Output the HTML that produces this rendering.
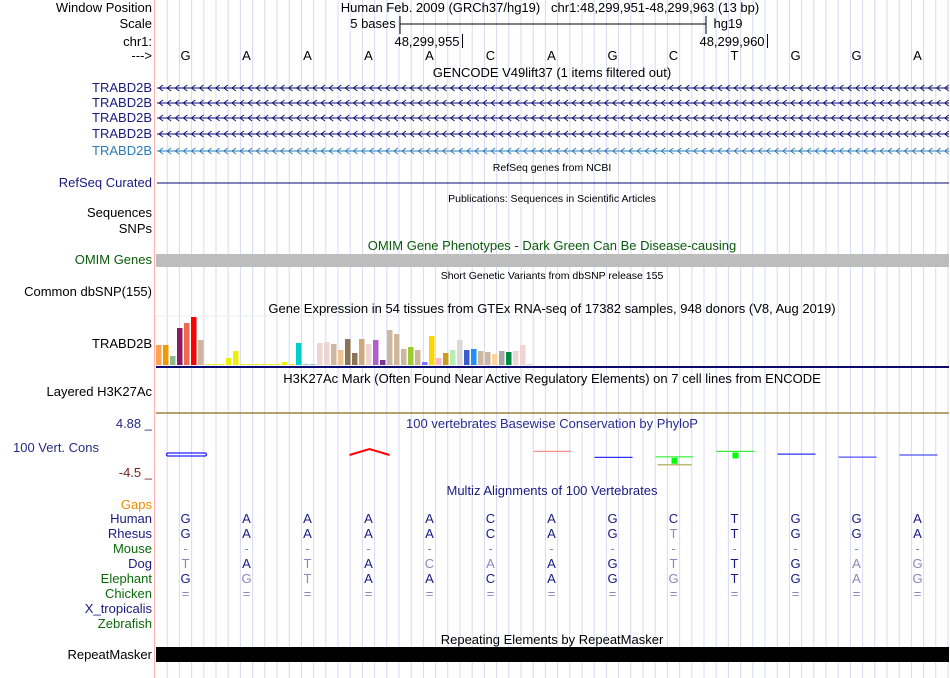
<!DOCTYPE html>
<html><head><meta charset="utf-8">
<style>
body{margin:0;width:950px;height:678px;overflow:hidden;background:#fff;font-family:"Liberation Sans",sans-serif;position:relative}
.l{position:absolute;right:798px;font-size:13px;white-space:nowrap;line-height:15px}
.t{position:absolute;font-size:13px;white-space:nowrap;line-height:15px;transform:translateX(-50%)}
.s{font-size:10.5px}
svg{position:absolute;left:0;top:0}
</style></head><body>
<svg id="g" width="950" height="678"></svg>

<div class="l" style="top:0px">Window Position</div>
<div class="l" style="top:16px">Scale</div>
<div class="l" style="top:34px">chr1:</div>
<div class="l" style="top:48px">---&gt;</div>
<div class="l" style="top:80px;color:#1a1a80">TRABD2B</div>
<div class="l" style="top:95px;color:#1a1a80">TRABD2B</div>
<div class="l" style="top:110px;color:#1a1a80">TRABD2B</div>
<div class="l" style="top:126px;color:#1a1a80">TRABD2B</div>
<div class="l" style="top:143px;color:#2a7ab8">TRABD2B</div>
<div class="l" style="top:175px;color:#1a1a80">RefSeq Curated</div>
<div class="l" style="top:205px">Sequences</div>
<div class="l" style="top:221px">SNPs</div>
<div class="l" style="top:252px;color:#0a5a0a">OMIM Genes</div>
<div class="l" style="top:284px">Common dbSNP(155)</div>
<div class="l" style="top:336px">TRABD2B</div>
<div class="l" style="top:384px">Layered H3K27Ac</div>
<div class="l" style="top:416px;color:#2a2a80">4.88 _</div>
<div class="l" style="top:440px;right:auto;left:13px;color:#2a2a80">100 Vert. Cons</div>
<div class="l" style="top:465px;color:#7a2020">-4.5 _</div>
<div class="l" style="top:497px;color:#f08c00">Gaps</div>
<div class="l" style="top:511px;color:#1a1a80">Human</div>
<div class="l" style="top:526px;color:#1a1a80">Rhesus</div>
<div class="l" style="top:541px;color:#0a6a0a">Mouse</div>
<div class="l" style="top:556px;color:#1a1a80">Dog</div>
<div class="l" style="top:571px;color:#0a6a0a">Elephant</div>
<div class="l" style="top:586px;color:#0a6a0a">Chicken</div>
<div class="l" style="top:601px;color:#1a1a80">X_tropicalis</div>
<div class="l" style="top:616px;color:#0a6a0a">Zebrafish</div>
<div class="l" style="top:647px">RepeatMasker</div>

<div class="t" style="left:550px;top:0px">Human Feb. 2009 (GRCh37/hg19)&nbsp;&nbsp; chr1:48,299,951-48,299,963 (13 bp)</div>
<div class="t" style="left:373px;top:16px">5 bases</div>
<div class="t" style="left:728px;top:16px">hg19</div>
<div class="t" style="left:427px;top:34px">48,299,955</div>
<div class="t" style="left:732px;top:34px">48,299,960</div>
<div class="t" style="left:552px;top:65px">GENCODE V49lift37 (1 items filtered out)</div>
<div class="t s" style="left:552px;top:161px">RefSeq genes from NCBI</div>
<div class="t s" style="left:552px;top:192px">Publications: Sequences in Scientific Articles</div>
<div class="t" style="left:552px;top:238px;color:#0a5a0a">OMIM Gene Phenotypes - Dark Green Can Be Disease-causing</div>
<div class="t s" style="left:552px;top:269px">Short Genetic Variants from dbSNP release 155</div>
<div class="t" style="left:552px;top:301px">Gene Expression in 54 tissues from GTEx RNA-seq of 17382 samples, 948 donors (V8, Aug 2019)</div>
<div class="t" style="left:552px;top:371px">H3K27Ac Mark (Often Found Near Active Regulatory Elements) on 7 cell lines from ENCODE</div>
<div class="t" style="left:552px;top:416px;color:#2a2a90">100 vertebrates Basewise Conservation by PhyloP</div>
<div class="t" style="left:552px;top:483px;color:#1a1a80">Multiz Alignments of 100 Vertebrates</div>
<div class="t" style="left:552px;top:632px">Repeating Elements by RepeatMasker</div>
<div id="txt"></div>

<script>
const bases=["G","A","A","A","A","C","A","G","C","T","G","G","A"];
const rhesus=["G","A","A","A","A","C","A","G","T","T","G","G","A"];
const dog=["T","A","T","A","C","A","A","G","T","T","G","A","G"];
const dogMatch=[0,1,0,1,0,0,1,1,0,1,1,0,0];
const eleph=["G","G","T","A","A","C","A","G","G","T","G","A","G"];
const elephMatch=[1,0,0,1,1,1,1,1,0,1,1,0,0];
const rhesusMatch=[1,1,1,1,1,1,1,1,0,1,1,1,1];
const gtexValues=[20,20,9,37,42,48,25,1,1,1,7,14,1,0,1,1,0,1,3,1,22,0,1,22,23,21,15,26,12,26,21,25,5,35,31,16,18,15,3,29,7,12,15,25,15,16,14,13,11,14,13,14,20,0];
const gtexColors=["#FFA54F","#EE9A00","#8FBC8F","#8B1C62","#EE6A50","#FF0000","#CDB79E","#EEEE00","#EEEE00","#EEEE00","#EEEE00","#EEEE00","#EEEE00","#EEEE00","#EEEE00","#EEEE00","#EEEE00","#EEEE00","#EEEE00","#EEEE00","#00CDCD","#9AC0CD","#9AC0CD","#EED5D2","#EED5D2","#CDB79E","#EEC591","#8B7355","#8B7355","#CDAA7D","#EED5D2","#B05FD0","#7A378B","#CDB79E","#CDB79E","#CDB79E","#9ACD32","#CDB79E","#7777FF","#FFD700","#FFB6C1","#CD9B1D","#B4EEB4","#D9D9D9","#3A5FCD","#1E90FF","#CDB79E","#CDB79E","#FFD39B","#A6A6A6","#008B45","#EED5D2","#EED5D2","#EED5D2"];
const consValues=[0.3,0,0,1.5,0,0,0.6,-0.4,-0.3,0.6,0.15,-0.35,0];
const consShown=[1,0,0,1,0,0,1,1,1,1,1,1,1];
const consColors=["#2020ff","","","#ff0000","","","#ff9090","#3030ff","#33ee33","#33ee33","#3030ff","#5050ff","#5050ff"];

const NS="http://www.w3.org/2000/svg";
const g=document.getElementById('g');
function mk(tag,at,name){const e=document.createElementNS(NS,tag);for(const k in at)e.setAttribute(k,at[k]);


g.appendChild(e);return e;}
const X0=156,X1=949,bw=(X1-X0)/bases.length;
const bx=i=>X0+bw*(i+0.5);
for(let x=167.2;x<950;x+=12.2){mk('line',{x1:x,x2:x,y1:0,y2:678,stroke:'#d8d8f4','stroke-width':1},'grid-line');}
mk('line',{x1:154.5,x2:154.5,y1:0,y2:678,stroke:'#ffb0b0'},'label-divider');
mk('path',{d:'M400 16V34M400 24H706M706 16V34',stroke:'#000',fill:'none'},'scale-bar');
mk('line',{x1:462.5,x2:462.5,y1:34,y2:48,stroke:'#000'},'coord-tick-955');
mk('line',{x1:767.5,x2:767.5,y1:34,y2:48,stroke:'#000'},'coord-tick-960');
const geneY=[88,103,118,134,151];
geneY.forEach((y,j)=>{const c=j==4?'#2a7ab8':'#0a0a70';
 mk('line',{x1:157,x2:949,y1:y,y2:y,stroke:c},'gene-line');
 let d='';for(let x=159;x<948;x+=8.1)d+=`M${x+4} ${y-3}L${x} ${y}L${x+4} ${y+3}`;
 mk('path',{d:d,stroke:c,fill:'none','stroke-width':0.9},'strand-arrows');});
mk('line',{x1:157,x2:949,y1:183,y2:183,stroke:'#0a0a70'},'refseq-line');
mk('rect',{x:156,y:254,width:793,height:13,fill:'#bdbdbd'},'omim-bar');
const gBase=365,gScale=1,pitch=7;
mk('rect',{x:156,y:316,width:378,height:49,fill:'none',stroke:'#eeeeee'},'gtex-box');
gtexValues.forEach((v,i)=>{const h=Math.max(v*gScale,1);
 mk('rect',{x:156+i*pitch,y:gBase-h,width:5.5,height:h,fill:gtexColors[i]},'gtex-bar');});
mk('line',{x1:156,x2:949,y1:367,y2:367,stroke:'#0a0a70','stroke-width':2},'gtex-baseline');
mk('line',{x1:156,x2:949,y1:413,y2:413,stroke:'#a08040','stroke-width':1.5},'h3k27ac-baseline');
const cz=455,cs=6;
consValues.forEach((v,i)=>{if(!consShown[i])return;const x=bx(i),y=cz-v*cs,col=consColors[i];
 if(i==3){mk('path',{d:`M${x-20} ${cz}L${x} ${cz-6}L${x+20} ${cz}`,stroke:col,fill:'none','stroke-width':2},'cons-mark');return;}
 if(i==0){mk('rect',{x:x-20,y:cz-2,width:40,height:3,rx:1.5,fill:'none',stroke:col,'stroke-width':1.3},'cons-mark');return;}
 mk('line',{x1:x-19,x2:x+19,y1:y,y2:y,stroke:col,'stroke-width':1.2},'cons-mark');
 if(i==8||i==9)mk('rect',{x:x-3,y:y+1,width:6,height:6,fill:'#00ff00'},'cons-square');
 if(i==8)mk('line',{x1:x-17,x2:x+17,y1:y+8,y2:y+8,stroke:'#bbbb77','stroke-width':1.5},'cons-mark-low');});
mk('rect',{x:156,y:647,width:793,height:15,fill:'#000'},'repeatmasker-bar');
const T=document.getElementById('txt');
function tx(s,x,y,c,name){const d=document.createElement('div');d.className='t';d.style.left=x+'px';d.style.top=y+'px';d.style.color=c;d.textContent=s;


T.appendChild(d);}
bases.forEach((b,i)=>{const x=bx(i)-1;
 tx(b,x,48,'#000','ref-base');
 tx(b,x,511,'#1a1a80','human-base');
 tx(rhesus[i],x,526,rhesusMatch[i]?'#1a1a80':'#8888bb','rhesus-base');
 tx('-',x,541,'#8888bb','mouse-base');
 tx(dog[i],x,556,dogMatch[i]?'#1a1a80':'#8888bb','dog-base');
 tx(eleph[i],x,571,elephMatch[i]?'#1a1a80':'#8888bb','elephant-base');
 tx('=',x,586,'#8888bb','chicken-base');});
</script>
</body></html>
